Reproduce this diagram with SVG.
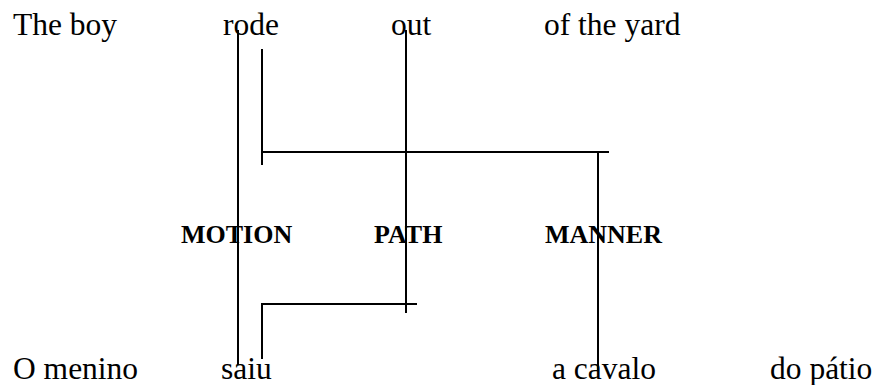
<svg xmlns="http://www.w3.org/2000/svg" width="876" height="385" viewBox="0 0 876 385">
  <style>
    .word { font-family: "Liberation Serif", "Times New Roman", serif; font-size: 31.5px; fill: #000; }
    .role { font-family: "Liberation Serif", "Times New Roman", serif; font-size: 26px; font-weight: bold; fill: #000; }
    .link { stroke: #000; stroke-width: 2; fill: none; }
  </style>
  <rect width="876" height="385" fill="#fff"/>

  <!-- English sentence -->
  <g id="en-the-boy"><text class="word" x="13" y="35">The boy</text></g>
  <g id="en-rode"><text class="word" x="223" y="35">rode</text></g>
  <g id="en-out"><text class="word" x="391" y="35">out</text></g>
  <g id="en-of-the-yard"><text class="word" x="544" y="35">of the yard</text></g>

  <!-- Semantic components -->
  <g id="role-motion"><text class="role" x="181" y="243">MOTION</text></g>
  <g id="role-path"><text class="role" x="374" y="243">PATH</text></g>
  <g id="role-manner"><text class="role" x="545" y="243">MANNER</text></g>

  <!-- Portuguese sentence -->
  <g id="pt-o-menino"><text class="word" x="13" y="379">O menino</text></g>
  <g id="pt-saiu"><text class="word" x="221" y="379">saiu</text></g>
  <g id="pt-a-cavalo"><text class="word" x="552" y="379">a cavalo</text></g>
  <g id="pt-do-patio"><text class="word" x="770" y="379">do pátio</text></g>

  <!-- Connectors -->
  <g id="connectors">
    <line class="link" x1="238" y1="30" x2="238" y2="365"/>
    <line class="link" x1="262" y1="49" x2="262" y2="165"/>
    <line class="link" x1="262" y1="152" x2="609" y2="152"/>
    <line class="link" x1="406" y1="30" x2="406" y2="313"/>
    <line class="link" x1="598" y1="152" x2="598" y2="370"/>
    <polyline class="link" points="262,359 262,304 417,304"/>
  </g>
</svg>
